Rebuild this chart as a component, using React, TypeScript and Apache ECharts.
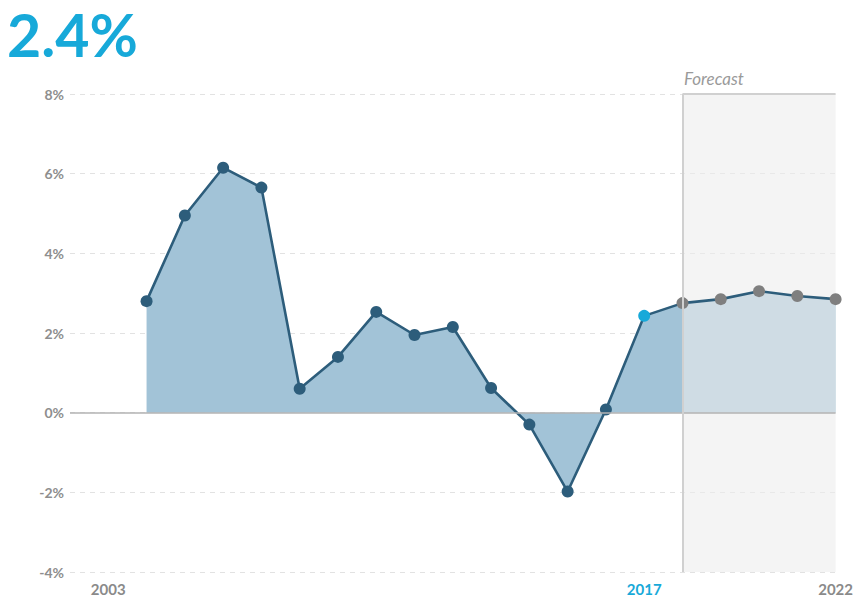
import React, { useEffect, useRef } from "react";
import * as echarts from "echarts";

const years = [2004, 2005, 2006, 2007, 2008, 2009, 2010, 2011, 2012, 2013, 2014, 2015, 2016, 2017, 2018, 2019, 2020, 2021, 2022];
const growth = [2.8, 4.95, 6.15, 5.65, 0.6, 1.4, 2.53, 1.95, 2.15, 0.62, -0.3, -1.98, 0.08, 2.43, 2.75, 2.85, 3.05, 2.93, 2.85];
const currentYear = 2017;
const forecastStart = 2018;
const forecastEnd = 2022;
const yTop = 8;
const xLabelYears = [2003, 2017, 2022];
const headline = "2.4%";

const CYAN = "#17a9d9";
const DARK = "#2d5d7b";
const FILL = "#a2c3d7";
const GREY_PT = "#7f7f7f";
const FONT = "Lato, 'Open Sans', sans-serif";

export default function App() {
  const ref = useRef<HTMLDivElement>(null);
  useEffect(() => {
    if (!ref.current) return;
    const chart = echarts.init(ref.current, undefined, { renderer: "svg" });
    const pairs = years.map((y, i) => [y, growth[i]]);
    const pointData = years.map((y, i) => ({
      value: [y, growth[i]],
      itemStyle: {
        color: y === currentYear ? CYAN : y >= forecastStart ? GREY_PT : DARK,
      },
    }));
    chart.setOption({
      animation: false,
      textStyle: { fontFamily: FONT },
      graphic: [
        {
          type: "text",
          left: 7,
          top: 5,
          style: {
            text: headline,
            fill: CYAN,
            font: `bold 59px ${FONT}`,
          },
        },
      ],
      grid: { left: 70, right: 13, top: 94, bottom: 29 },
      xAxis: {
        type: "value",
        min: 2002,
        max: 2022,
        axisLine: { show: false },
        axisTick: { show: false },
        splitLine: { show: false },
        axisLabel: {
          customValues: xLabelYears,
          margin: 9,
          formatter: (v: number) =>
            v === currentYear ? `{hl|${v}}` : `{n|${v}}`,
          rich: {
            hl: { color: CYAN, fontSize: 15, fontWeight: "bold", fontFamily: FONT },
            n: { color: "#8a8a8a", fontSize: 15, fontWeight: "bold", fontFamily: FONT },
          },
        },
      },
      yAxis: {
        type: "value",
        min: -4,
        max: 8,
        interval: 2,
        axisLine: { show: false },
        axisTick: { show: false },
        axisLabel: {
          formatter: "{value}%",
          color: "#8e8e8e",
          fontSize: 14,
          fontWeight: "bold",
          margin: 6,
        },
        splitLine: {
          lineStyle: { color: "#e2e2e2", type: [5, 5], width: 1 },
        },
      },
      series: [
        {
          type: "line",
          z: 1,
          data: pairs,
          symbol: "none",
          lineStyle: { width: 0 },
          areaStyle: { color: FILL, opacity: 1 },
          silent: true,
          markLine: {
            silent: true,
            symbol: "none",
            label: { show: false },
            data: [
              { yAxis: 0, lineStyle: { color: "#b3b3b3", width: 1.5, type: "solid" } },
            ],
          },
        },
        {
          type: "line",
          z: 2,
          data: [
            [forecastStart, yTop],
            [forecastEnd, yTop],
          ],
          symbol: "none",
          silent: true,
          lineStyle: { color: "#d0d0d0", width: 2 },
          areaStyle: { color: "rgba(236,236,236,0.6)", opacity: 1, origin: "start" },
          markLine: {
            silent: true,
            symbol: "none",
            label: { show: false },
            data: [
              { xAxis: forecastStart, lineStyle: { color: "#d0d0d0", width: 2, type: "solid" } },
            ],
          },
          markPoint: {
            silent: true,
            symbol: "rect",
            symbolSize: 1,
            itemStyle: { color: "transparent" },
            label: {
              show: true,
              position: "right",
              distance: 0,
              color: "#9a9a9a",
              fontStyle: "italic",
              fontSize: 17,
              fontFamily: FONT,
              formatter: "Forecast",
            },
            data: [{ coord: [forecastStart, yTop], symbolOffset: [1, -16] }],
          },
        },
        {
          type: "line",
          z: 3,
          data: pointData,
          symbol: "circle",
          symbolSize: 12,
          showAllSymbol: true,
          lineStyle: { color: DARK, width: 2.6 },
          itemStyle: { color: DARK },
        },
      ],
    });
    return () => chart.dispose();
  }, []);
  return (
    <div
      ref={ref}
      style={{ position: "absolute", left: 0, top: 0, width: 856, height: 601 }}
    />
  );
}
